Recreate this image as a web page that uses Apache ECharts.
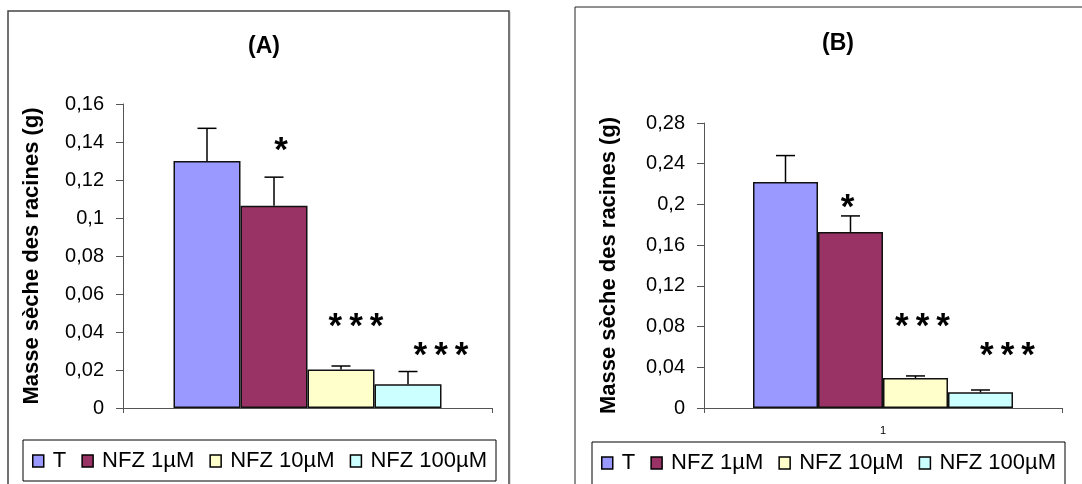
<!DOCTYPE html>
<html>
<head>
<meta charset="utf-8">
<script src="https://cdn.jsdelivr.net/npm/echarts@6/dist/echarts.min.js"></script>
<style>
  html, body { margin: 0; padding: 0; background: #fff; }
  #chart { width: 1082px; height: 484px; }
</style>
</head>
<body>
<div id="chart"></div>
<script>
// Dry root mass under nifurzide (NFZ) treatment, two experiments (A) and (B)
const categories = ['1'];
const groupNames = ['T', 'NFZ 1µM', 'NFZ 10µM', 'NFZ 100µM'];
const massA = [0.130, 0.1065, 0.0203, 0.0125];
const errA = [0.0172, 0.0150, 0.0018, 0.0067];
const massB = [0.222, 0.173, 0.0295, 0.0154];
const errB = [0.0260, 0.0157, 0.0020, 0.0023];
const signifA = ['', '*', '***', '***'];
const signifB = ['', '*', '***', '***'];
const axisMaxA = 0.16, axisStepA = 0.02;
const axisMaxB = 0.28, axisStepB = 0.04;
const panelTitles = ['(A)', '(B)'];
const yAxisTitle = 'Masse sèche des racines (g)';

const colors = ['#9999FF', '#993366', '#FFFFCC', '#CCFFFF'];
const FONT = '"Liberation Sans", Arial, Helvetica, sans-serif';

// where the significance marks sit (value level, horizontal nudge in px)
const starPlaceA = [null, [0.1385, 7], [0.0457, 15], [0.0304, 33]];
const starPlaceB = [null, [0.2020, -3], [0.0852, 7], [0.0567, 27]];

const panels = [
  { mass: massA, err: errA, signif: signifA, max: axisMaxA, step: axisStepA, stars: starPlaceA,
    grid: { left: 123, top: 104, width: 369, height: 304 }, barW: 67, showCat: false,
    nameGap: 80, legend: { left: 23, top: 440, pad: [10, 9, 9, 9] }, title: { x: 259, y: 30 } },
  { mass: massB, err: errB, signif: signifB, max: axisMaxB, step: axisStepB, stars: starPlaceB,
    grid: { left: 704, top: 123, width: 358, height: 285 }, barW: 65, showCat: true,
    nameGap: 84, legend: { left: 592, top: 442, pad: [10, 9, 40, 9] }, title: { x: 833, y: 27 } }
];

// spread legend entries over the box width
const LEGEND_SIZE = 22;
const measure = document.createElement('canvas').getContext('2d');
measure.font = LEGEND_SIZE + 'px ' + FONT;
const textSum = groupNames.reduce((s, n) => s + measure.measureText(n).width, 0);
const legendContent = 452;
const iconW = 11, iconTextGap = 5 + 4;
const legendGap = Math.max(8, (legendContent - textSum - groupNames.length * (iconW + iconTextGap)) / (groupNames.length - 1));

const fmt = v => String(+v.toFixed(4)).replace('.', ',');

const option = {
  backgroundColor: '#fff',
  animation: false,
  title: panels.map((p, k) => ({
    text: panelTitles[k], left: p.title.x, top: p.title.y, textAlign: 'center',
    textStyle: { fontFamily: FONT, fontSize: 23, fontWeight: 'bold', color: '#000' }
  })),
  grid: panels.map(p => Object.assign({ containLabel: false }, p.grid)),
  legend: panels.map(p => ({
    data: groupNames, left: p.legend.left, top: p.legend.top, orient: 'horizontal',
    padding: p.legend.pad, itemGap: legendGap, itemWidth: iconW, itemHeight: 12,
    icon: 'rect', borderColor: '#000', borderWidth: 1, selectedMode: false,
    itemStyle: { borderColor: '#000', borderWidth: 1.5 },
    textStyle: { fontFamily: FONT, fontSize: LEGEND_SIZE, color: '#000', padding: [0, 0, 0, 4] }
  })),
  xAxis: panels.map((p, k) => ({
    type: 'category', gridIndex: k, data: categories,
    axisLine: { lineStyle: { color: '#555', width: 1 } },
    axisTick: { show: true, length: 5, lineStyle: { color: '#555' } },
    axisLabel: { show: p.showCat, margin: 17, fontFamily: FONT, fontSize: 11, color: '#000' },
    splitLine: { show: false }
  })),
  yAxis: panels.map((p, k) => ({
    type: 'value', gridIndex: k, min: 0, max: p.max, interval: p.step,
    name: yAxisTitle, nameLocation: 'middle', nameRotate: 90, nameGap: p.nameGap,
    nameTextStyle: { fontFamily: FONT, fontSize: 22, fontWeight: 'bold', color: '#000' },
    axisLine: { show: true, lineStyle: { color: '#555', width: 1 } },
    axisTick: { show: true, inside: false, length: 7, lineStyle: { color: '#555' } },
    axisLabel: { margin: 19, fontFamily: FONT, fontSize: 20, color: '#000', formatter: fmt },
    splitLine: { show: false }
  })),
  series: [],
  graphic: [
    { type: 'rect', shape: { x: 8, y: 11, width: 501, height: 520 },
      style: { fill: 'none', stroke: '#444', lineWidth: 1.5 }, z: -1 },
    { type: 'line', shape: { x1: 509.5, y1: 12, x2: 509.5, y2: 484 },
      style: { stroke: '#777', lineWidth: 1.5 }, z: -1 },
    { type: 'rect', shape: { x: 575, y: 7, width: 600, height: 520 },
      style: { fill: 'none', stroke: '#222', lineWidth: 1 }, z: -1 }
  ]
};

panels.forEach((p, k) => {
  groupNames.forEach((name, i) => {
    option.series.push({
      type: 'bar', name: name, xAxisIndex: k, yAxisIndex: k,
      data: [p.mass[i]], barWidth: p.barW, barGap: '0%',
      itemStyle: { color: colors[i], borderColor: '#111', borderWidth: 1.5 }
    });
  });

  // upper standard-error whiskers
  option.series.push({
    type: 'custom', xAxisIndex: k, yAxisIndex: k, z: 5,
    data: p.mass.map((m, i) => [0, m, p.err[i], i]),
    encode: { x: 0, y: 1 },
    renderItem: (params, api) => {
      const i = api.value(3);
      const base = api.coord([api.value(0), api.value(1)]);
      const top = api.coord([api.value(0), api.value(1) + api.value(2)]);
      const x = base[0] + (i - 1.5) * p.barW;
      const half = 9.5;
      return {
        type: 'group', children: [
          { type: 'line', shape: { x1: x, y1: base[1], x2: x, y2: top[1] }, style: { stroke: '#000', lineWidth: 1.5 } },
          { type: 'line', shape: { x1: x - half, y1: top[1], x2: x + half, y2: top[1] }, style: { stroke: '#000', lineWidth: 1.5 } }
        ]
      };
    }
  });

  // significance asterisks
  const starData = [];
  p.signif.forEach((s, i) => { if (s && p.stars[i]) starData.push([0, p.stars[i][0], i]); });
  option.series.push({
    type: 'custom', xAxisIndex: k, yAxisIndex: k, z: 6,
    data: starData, encode: { x: 0, y: 1 },
    renderItem: (params, api) => {
      const i = api.value(2);
      const pt = api.coord([api.value(0), api.value(1)]);
      const x = pt[0] + (i - 1.5) * p.barW + p.stars[i][1];
      return {
        type: 'text',
        style: {
          x: x, y: pt[1] + 6, text: p.signif[i].split('').join('\u2009'),
          fontFamily: FONT, fontSize: 35, fontWeight: 'bold', fill: '#000',
          textAlign: 'center', textVerticalAlign: 'middle'
        }
      };
    }
  });
});

const chart = echarts.init(document.getElementById('chart'), null, { renderer: 'canvas' });
chart.setOption(option);
</script>
</body>
</html>
